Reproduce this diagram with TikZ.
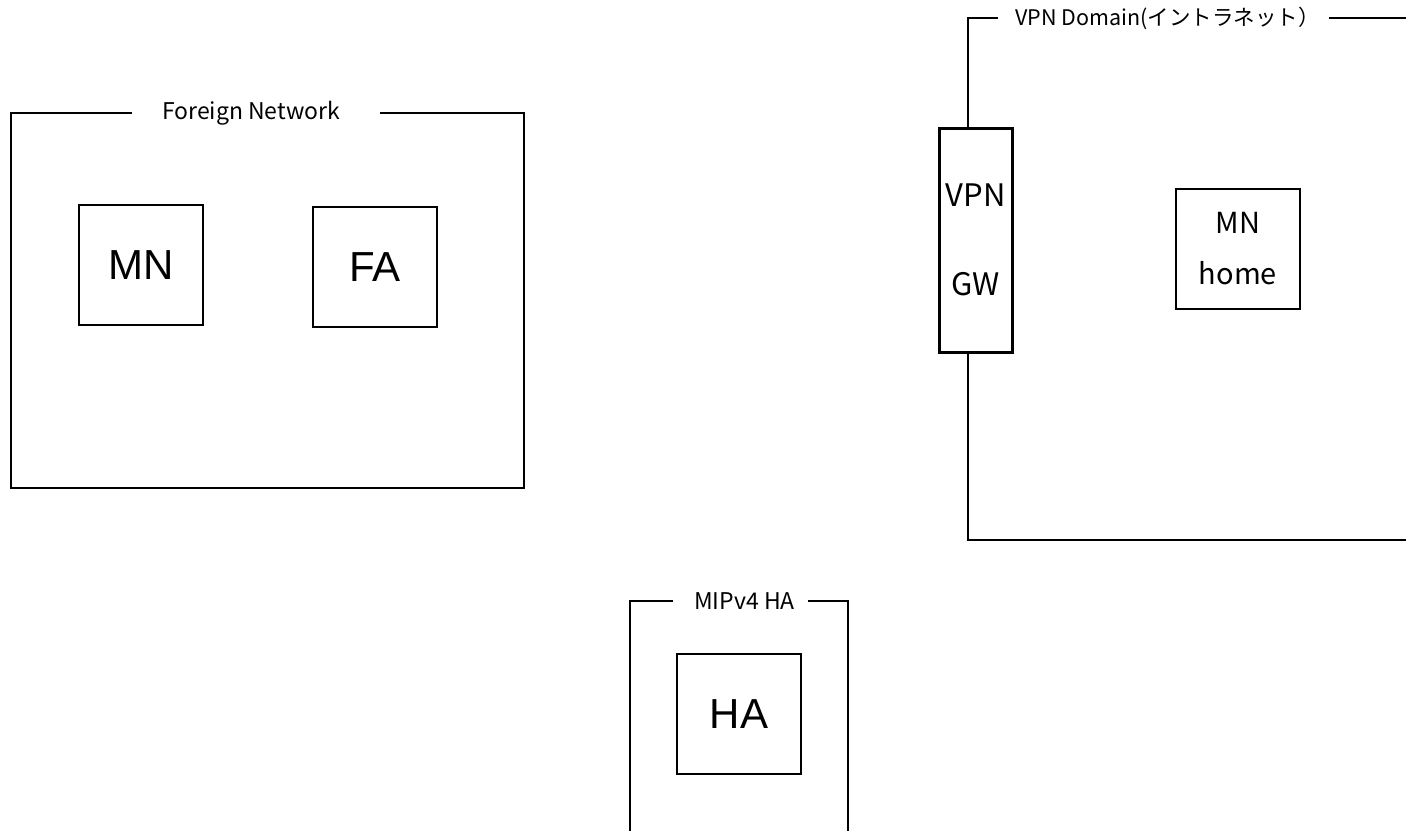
\documentclass[tikz,border=0pt]{standalone}
\usepackage{fontspec}
\setmainfont{Liberation Sans}
\newfontfamily\gothic{Noto Sans CJK JP}
\usetikzlibrary{positioning, calc}
\tikzset{
  host/.style={rectangle, draw=black, line width=1.2pt, minimum width=124pt, minimum height=120pt, inner sep=0pt, font=\fontsize{42}{46}\selectfont},
  homebox/.style={host, align=center, font=\gothic\fontsize{29}{51}\selectfont},
  gwbox/.style={rectangle, draw=black, line width=3pt, minimum width=73pt, minimum height=224pt, inner sep=0pt, align=center, font=\gothic\fontsize{31}{89}\selectfont},
  netlabel/.style={inner sep=0pt, font=\gothic\fontsize{23}{26}\selectfont},
  netline/.style={draw=black, line width=1.2pt}
}

\begin{document}
\begin{tikzpicture}[x=1pt, y=-1pt]
        \useasboundingbox (0,0) rectangle (1406,831);

        % Foreign Network
        \node (fnlabel) [netlabel] at (251,113) {Foreign Network};
        \node (mn) [host] at (141,265) {MN};
        \node (fa) [host] at (375,267) {FA};
        \draw [netline] ($(fnlabel.west)+(-30,0)$) -- (11,113) -- (11,488) -- (524,488) -- (524,113) -- ($(fnlabel.east)+(40,0)$);

        % VPN Domain
        \node (vpnlabel) [netlabel, font=\gothic\fontsize{21.5}{24}\selectfont] at (1167.5,18) {VPN Domain(イントラネット）};
        \node (gw) [gwbox] at (975.5,240) {VPN\\GW};
        \node (mnhome) [homebox] at (1238,249) {MN\\home};
        \coordinate (vl) at (968,18);
        \draw [netline] ($(vpnlabel.west)+(-17,0)$) -- (vl) -- (vl |- gw.north);
        \draw [netline] (vl |- gw.south) -- (968,540) -- (1406,540);
        \draw [netline] ($(vpnlabel.east)+(9,0)$) -- (1406,18);

        % MIPv4 HA
        \node (halabel) [netlabel] at (744.5,601) {MIPv4 HA};
        \node (ha) [host] at (739,714) {HA};
        \draw [netline] ($(halabel.west)+(-21,0)$) -- (630,601) -- (630,831);
        \draw [netline] ($(halabel.east)+(13,0)$) -- (848,601) -- (848,831);

\end{tikzpicture}
\end{document}
